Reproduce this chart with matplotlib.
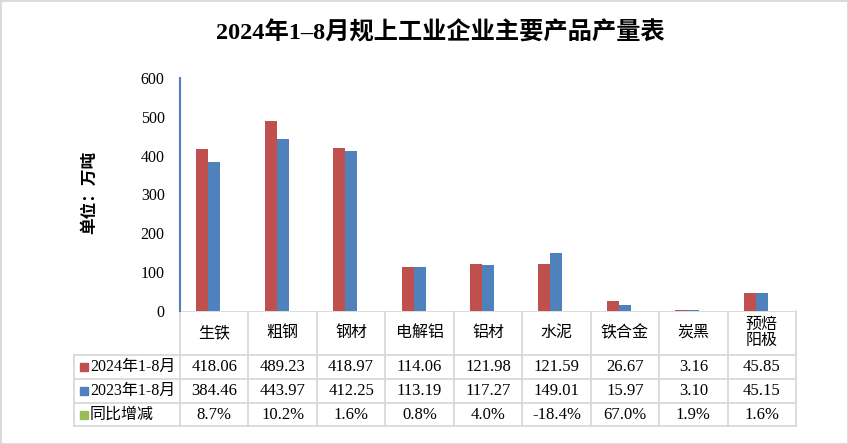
import numpy as np
import matplotlib
matplotlib.use("Agg")
import matplotlib.pyplot as plt
from matplotlib.patches import Rectangle

plt.rcParams['font.family'] = ['Liberation Serif', 'Noto Sans CJK SC', 'DejaVu Sans']

# data
categories = ["生铁", "粗钢", "钢材", "电解铝", "铝材", "水泥", "铁合金", "炭黑", "预焙\n阳极"]
prod_2024 = [418.06, 489.23, 418.97, 114.06, 121.98, 121.59, 26.67, 3.16, 45.85]
prod_2023 = [384.46, 443.97, 412.25, 113.19, 117.27, 149.01, 15.97, 3.10, 45.15]
yoy_pct = [8.7, 10.2, 1.6, 0.8, 4.0, -18.4, 67.0, 1.9, 1.6]
series_names = ["2024年1-8月", "2023年1-8月", "同比增减"]
colors = ["#C0504D", "#4F81BD", "#9BBB59"]
yticks = [0, 100, 200, 300, 400, 500, 600]

W, H = 848, 444
fig = plt.figure(figsize=(W / 100, H / 100), dpi=100)

# plot area in pixels
x0, x1, ytop, ybot = 180, 796, 78, 311
ax = fig.add_axes([x0 / W, 1 - ybot / H, (x1 - x0) / W, (ybot - ytop) / H])
n = len(categories)
idx = np.arange(n)
bw = 0.175
ax.bar(idx - bw, prod_2024, bw, color=colors[0])
ax.bar(idx, prod_2023, bw, color=colors[1])
ax.bar(idx + bw, [v / 100 for v in yoy_pct], bw, color=colors[2])
ax.set_xlim(-0.5, n - 0.5)
ax.set_ylim(0, 600)
ax.set_yticks(yticks)
ax.set_yticklabels([str(t) for t in yticks], fontsize=11.5)
ax.tick_params(axis='y', length=0, pad=11)
ax.set_xticks([])
for s in ['top', 'right', 'bottom']:
    ax.spines[s].set_visible(False)
ax.spines['left'].set_color('#4F81BD')
ax.spines['left'].set_linewidth(1.5)

# overlay in pixel coords for table & labels
ov = fig.add_axes([0, 0, 1, 1], zorder=-1)
ov.set_xlim(0, W)
ov.set_ylim(H, 0)
ov.axis('off')

grid_c = '#D9D9D9'
lw = 1.3
cw = (x1 - x0) / n
row_y = [311, 355, 379, 403, 426]
lx = 74
ov.plot([x0, x1], [row_y[0], row_y[0]], color=grid_c, lw=lw)
for y in row_y[1:]:
    ov.plot([lx, x1], [y, y], color=grid_c, lw=lw)
for k in range(n + 1):
    ov.plot([x0 + k * cw, x0 + k * cw], [row_y[0], row_y[-1]], color=grid_c, lw=lw)
ov.plot([lx, lx], [row_y[1], row_y[-1]], color=grid_c, lw=lw)

for i, cat in enumerate(categories):
    cx = x0 + (i + 0.5) * cw
    ov.text(cx, (row_y[0] + row_y[1]) / 2, cat, ha='center', va='center',
            fontsize=11.5, linespacing=1.0)
    ov.text(cx, (row_y[1] + row_y[2]) / 2, f"{prod_2024[i]:.2f}", ha='center', va='center', fontsize=12)
    ov.text(cx, (row_y[2] + row_y[3]) / 2, f"{prod_2023[i]:.2f}", ha='center', va='center', fontsize=12)
    ov.text(cx, (row_y[3] + row_y[4]) / 2, f"{yoy_pct[i]:.1f}%", ha='center', va='center', fontsize=12)

for r, name in enumerate(series_names):
    yc = (row_y[r + 1] + row_y[r + 2]) / 2
    ov.add_patch(Rectangle((80, yc - 4), 8, 8, color=colors[r]))
    ov.text(90, yc, name, ha='left', va='center', fontsize=11.5)

# title and y label
fig.text(440 / W, 1 - 33 / H, "2024年1–8月规上工业企业主要产品产量表", ha='center', va='center',
         fontsize=17.5, fontweight='bold')
fig.text(90 / W, 1 - 192 / H, "单位：万吨", ha='center', va='center', rotation=90,
         fontsize=12, fontweight='bold')

fig.add_artist(Rectangle((0, 0), 1, 1, transform=fig.transFigure, fill=False,
                         ec=grid_c, lw=2))

fig.savefig("out.png", dpi=100)
